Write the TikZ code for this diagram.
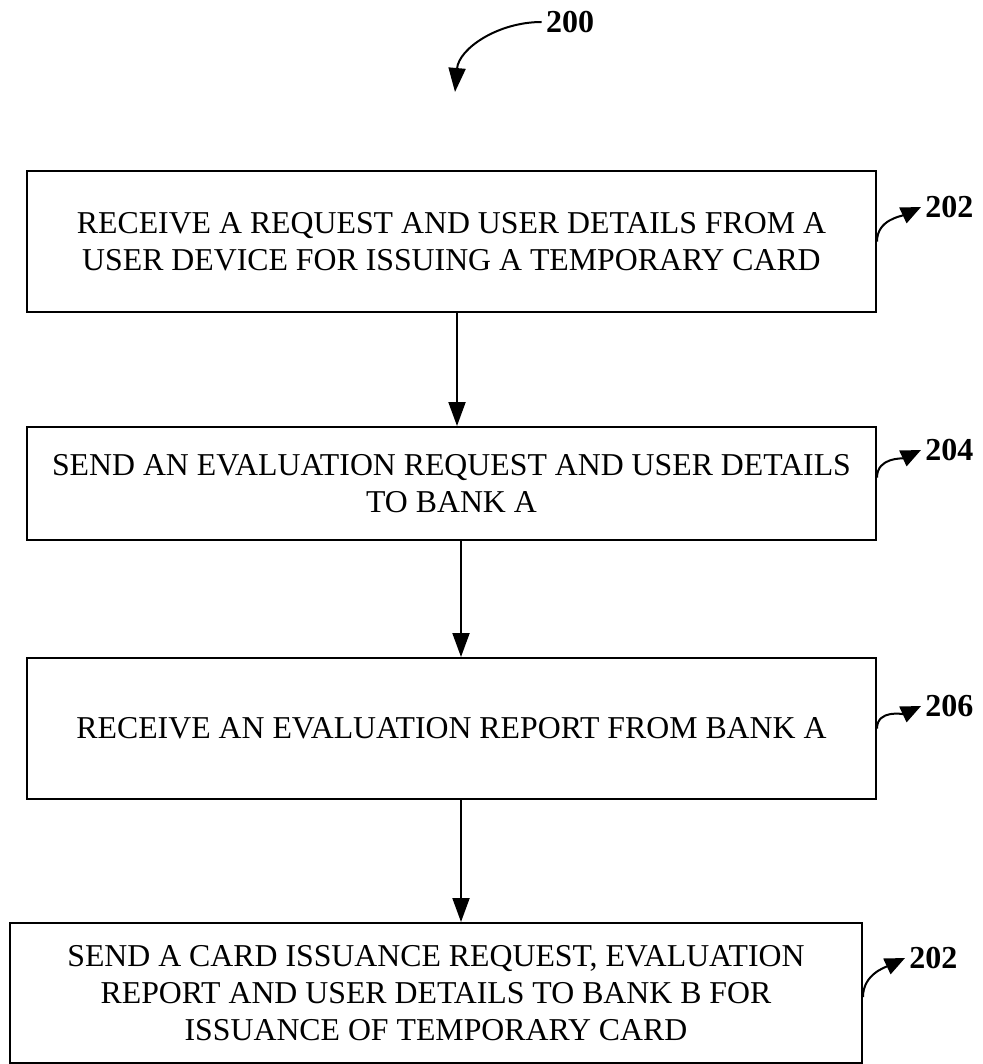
\documentclass[tikz,border=0pt]{standalone}
\usepackage{fontspec}
\setmainfont{Liberation Serif}
\usetikzlibrary{arrows.meta}

\begin{document}
\begin{tikzpicture}[x=0.5pt,y=-0.5pt,
    stepbox/.style={draw, line width=1pt, align=center, inner sep=0pt,
      font=\fontsize{15.9}{18.5}\selectfont},
    tag/.style={font=\fontsize{16}{18}\selectfont\bfseries, inner sep=2pt, anchor=west},
    flow/.style={-{Triangle[width=8.5pt,length=12pt]}, line width=1pt},
    hook/.style={-{Triangle[width=8.5pt,length=10pt]}, line width=1pt}]
  \useasboundingbox (0,0) rectangle (983,1064);
  % steps
  \node[stepbox, minimum width=424.5pt, minimum height=70.5pt] (s1) at (451.5,241.5)
    {RECEIVE A REQUEST AND USER DETAILS FROM A\\USER DEVICE FOR ISSUING A TEMPORARY CARD};
  \node[stepbox, minimum width=424.5pt, minimum height=56.5pt] (s2) at (451.5,483.5)
    {SEND AN EVALUATION REQUEST AND USER DETAILS\\TO BANK A};
  \node[stepbox, minimum width=424.5pt, minimum height=70.5pt] (s3) at (451.5,728.5)
    {RECEIVE AN EVALUATION REPORT FROM BANK A};
  \node[stepbox, minimum width=426pt, minimum height=70pt] (s4) at (436,993)
    {SEND A CARD ISSUANCE REQUEST, EVALUATION\\REPORT AND USER DETAILS TO BANK B FOR\\ISSUANCE OF TEMPORARY CARD};
  % reference numerals
  \node[tag, anchor=center] (t0) at (570,22) {200};
  \node[tag] (t1) at (921,207) {202};
  \node[tag] (t2) at (921,450) {204};
  \node[tag] (t3) at (921,706) {206};
  \node[tag] (t4) at (905,958) {202};
  \coordinate (p0) at (455,92);
  \draw[flow] (t0.west) to[out=180,in=85] (p0);
  % flow arrows
  \coordinate (a1) at ([xshift=2.75pt]s1.south);
  \coordinate (a2) at ([xshift=4.75pt]s2.south);
  \coordinate (a3) at ([xshift=4.75pt]s3.south);
  \draw[flow] (a1) -- (a1 |- s2.north);
  \draw[flow] (a2) -- (a2 |- s3.north);
  \draw[flow] (a3) -- (a3 |- s4.north);
  % hooks
  \draw[hook] (s1.east) to[out=90,in=205] (t1.west);
  \draw[hook] ([yshift=3pt]s2.east) to[out=90,in=205] (t2.west);
  \draw[hook] (s3.east) to[out=90,in=205] (t3.west);
  \draw[hook] ([yshift=-2pt]s4.east) to[out=90,in=205] (t4.west);
\end{tikzpicture}
\end{document}
